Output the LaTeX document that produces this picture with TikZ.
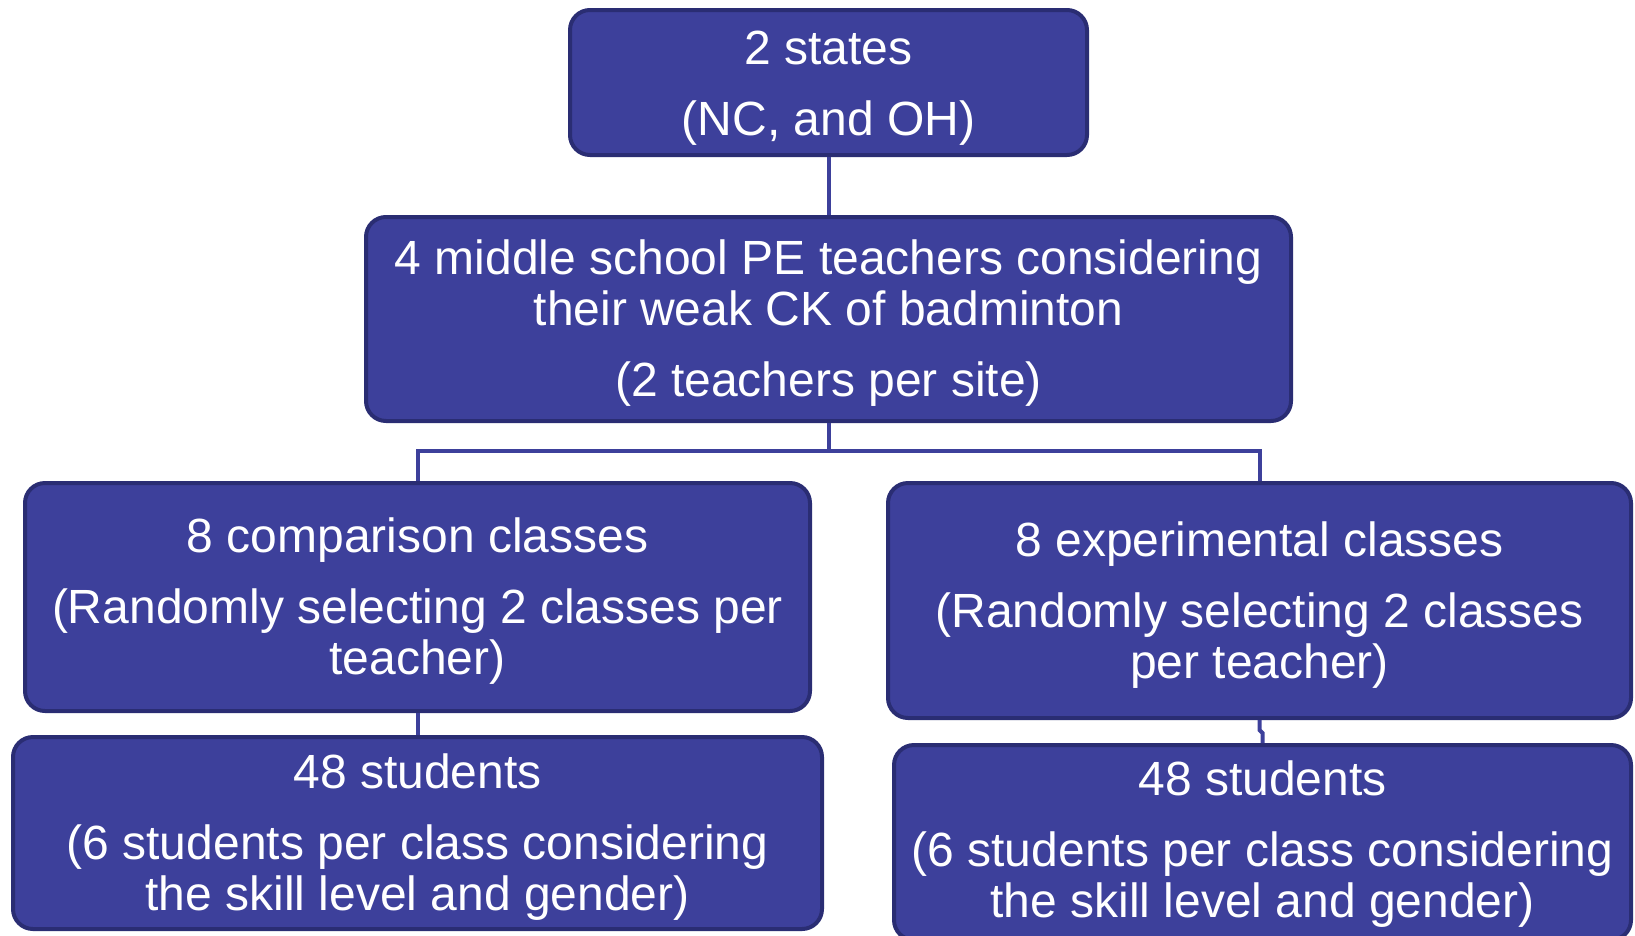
\documentclass[tikz,border=0pt]{standalone}
\usepackage{fontspec}
\setmainfont{Liberation Sans}
\definecolor{boxfill}{RGB}{61,64,155}
\definecolor{boxline}{RGB}{42,45,115}
\definecolor{conn}{RGB}{61,64,155}
\tikzset{
  flowbox/.style={draw=boxline, fill=boxfill, line width=4pt, rounded corners=20pt,
    inner sep=0pt},
  flowtext/.style={text=white, align=center, inner sep=0pt,
    font=\fontsize{48}{51}\selectfont},
  link/.style={draw=conn, line width=4pt}
}
\begin{document}
\begin{tikzpicture}[x=1pt,y=-1pt]
\useasboundingbox (0,0) rectangle (1635,935);
\node[flowbox, minimum width=517pt, minimum height=145pt,
  label={[flowtext, name=topT, yshift=-5.5pt]center:{2 states\\[20pt](NC, and OH)}}] (top) at (828.5,82.5) {};
\node[flowbox, minimum width=925pt, minimum height=204pt,
  label={[flowtext, name=teachT, yshift=-4pt]center:{4 middle school PE teachers considering\\their weak CK of badminton\\[20pt](2 teachers per site)}}] (teach) at (828.5,319) {};
\node[flowbox, minimum width=785pt, minimum height=228pt,
  label={[flowtext, name=compT, yshift=-4pt]center:{8 comparison classes\\[20pt](Randomly selecting 2 classes per\\teacher)}}] (comp) at (417.5,597) {};
\node[flowbox, minimum width=743pt, minimum height=235pt,
  label={[flowtext, name=experT, yshift=-4.5pt]center:{8 experimental classes\\[20pt](Randomly selecting 2 classes\\per teacher)}}] (exper) at (1259.5,600.5) {};
\node[flowbox, minimum width=809pt, minimum height=192pt,
  label={[flowtext, name=studAT, yshift=-4pt]center:{48 students\\[20pt](6 students per class considering\\the skill level and gender)}}] (studA) at (417.5,833) {};
\node[flowbox, minimum width=737pt, minimum height=195pt,
  label={[flowtext, name=studBT, yshift=-1.5pt]center:{48 students\\[20pt](6 students per class considering\\the skill level and gender)}}] (studB) at (1262.5,842.5) {};
\coordinate (bus) at (828.5,451);
\draw[link] (top.south) -- (teach.north);
\draw[link] (teach.south) -- (bus);
\draw[link] (bus) -| (comp.north);
\draw[link] (bus) -| (exper.north);
\draw[link] (comp.south) -- (studA.north);
\draw[link] (exper.south) -- ++(0,10) -- ([yshift=10pt]studB.north) -- (studB.north);
\end{tikzpicture}
\end{document}
